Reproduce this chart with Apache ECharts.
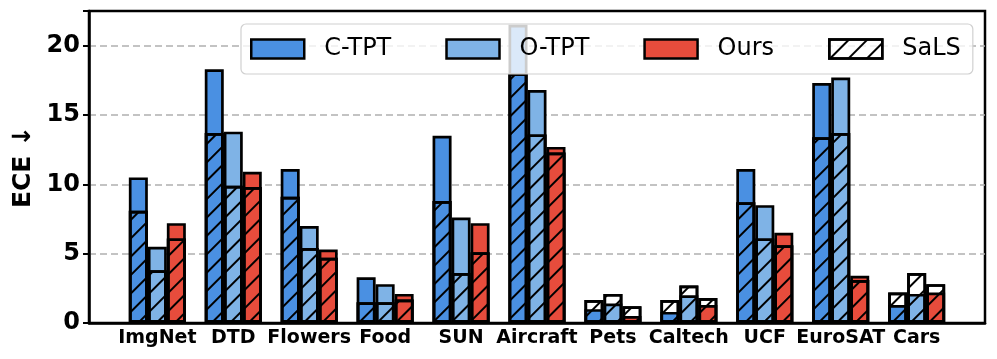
<!DOCTYPE html>
<html>
<head>
<meta charset="utf-8">
<script src="https://cdn.jsdelivr.net/npm/echarts@6/dist/echarts.min.js"></script>
<style>
html,body{margin:0;padding:0;background:#fff;}
#chart{width:997px;height:359px;}
</style>
</head>
<body>
<div id="chart"></div>
<script>
var categories = ['ImgNet', 'DTD', 'Flowers', 'Food', 'SUN', 'Aircraft', 'Pets', 'Caltech', 'UCF', 'EuroSAT', 'Cars'];
var ctpt      = [10.5, 18.3, 11.1, 3.3, 13.5, 21.5, 1.0, 0.8, 11.1, 17.3, 1.3];
var ctptSals  = [8.1, 13.7, 9.1, 1.5, 8.8, 18.0, 1.65, 1.65, 8.7, 13.4, 2.2];
var otpt      = [5.5, 13.8, 7.0, 2.8, 7.6, 16.8, 1.4, 2.0, 8.5, 17.7, 2.1];
var otptSals  = [3.8, 9.9, 5.4, 1.5, 3.6, 13.6, 2.1, 2.7, 6.1, 13.7, 3.6];
var ours      = [7.2, 10.9, 5.3, 2.1, 7.2, 12.7, 0.5, 1.3, 6.5, 3.4, 2.2];
var oursSals  = [6.1, 9.8, 4.7, 1.7, 5.1, 12.3, 1.2, 1.8, 5.6, 3.1, 2.8];
var yTicks = [0, 5, 10, 15, 20];

var FONT = 'DejaVu Sans';
function pts(arr) { return arr.map(function (v, i) { return [i, v]; }); }

var hatch = {
    symbol: 'rect',
    symbolSize: 1,
    color: '#000',
    backgroundColor: 'rgba(0,0,0,0)',
    dashArrayX: [1, 0],
    dashArrayY: [1.4, 10.6],
    rotation: -Math.PI / 4
};

function mainBar(name, data, color) {
    return {
        name: name, type: 'bar', xAxisIndex: 0, data: pts(data),
        barWidth: 19, barGap: '0%', z: 2,
        itemStyle: { color: color, borderColor: '#000', borderWidth: 2.7 }
    };
}
function salsBar(data) {
    return {
        name: 'SaLS', type: 'bar', xAxisIndex: 1, data: pts(data),
        barWidth: 19, barGap: '0%', z: 3,
        itemStyle: { color: 'rgba(255,255,255,0)', borderColor: '#000', borderWidth: 2.7, decal: hatch }
    };
}

var myChart = echarts.init(document.getElementById('chart'));
var option = {
    animation: false,
    grid: {
        left: 89, right: 12, top: 11, bottom: 36,
        show: true, borderColor: '#000', borderWidth: 2.5, backgroundColor: 'transparent'
    },
    legend: {
        data: ['C-TPT', 'O-TPT', 'Ours', 'SaLS'],
        left: 241, top: 24,
        padding: [13, 12, 13, 9],
        itemWidth: 53, itemHeight: 19, itemGap: 54,
        icon: 'rect',
        backgroundColor: 'rgba(255,255,255,0.8)',
        borderColor: '#d0d0d0', borderWidth: 1.2, borderRadius: 5,
        itemStyle: { borderColor: '#000', borderWidth: 2.5 },
        textStyle: { fontFamily: FONT, fontSize: 24, color: '#000', padding: [0, 0, 0, 15] }
    },
    xAxis: [{
        type: 'value', min: -0.9, max: 10.9,
        axisLine: { show: true, lineStyle: { color: '#000', width: 2.5 } },
        axisTick: { show: false },
        splitLine: { show: false },
        axisLabel: {
            customValues: categories.map(function (c, i) { return i; }),
            formatter: function (v) { return categories[Math.round(v)]; },
            fontFamily: FONT, fontWeight: 'bold', fontSize: 19, color: '#000', margin: 6
        }
    }, {
        type: 'value', min: -0.9, max: 10.9, show: false,
        splitLine: { show: false }
    }],
    yAxis: {
        type: 'value', min: 0, max: 22.5, interval: 5,
        name: 'ECE \u2193', nameLocation: 'middle', nameGap: 53, nameRotate: 90,
        nameTextStyle: { fontFamily: FONT, fontWeight: 'bold', fontSize: 25, color: '#000' },
        axisLine: { show: true, onZero: false, lineStyle: { color: '#000', width: 2.5 } },
        axisTick: { show: true, length: 6, lineStyle: { color: '#000', width: 2 } },
        axisLabel: {
            formatter: function (v) { return yTicks.indexOf(v) >= 0 ? String(v) : ''; },
            fontFamily: FONT, fontWeight: 'bold', fontSize: 24, color: '#000', margin: 9
        },
        splitLine: {
            show: true, showMinLine: false, showMaxLine: false,
            lineStyle: { color: '#b0b0b0', width: 1.5, type: [7, 4] }
        }
    },
    series: [
        mainBar('C-TPT', ctpt, '#4a90e2'),
        mainBar('O-TPT', otpt, '#7fb3e6'),
        mainBar('Ours', ours, '#e74c3c'),
        salsBar(ctptSals),
        salsBar(otptSals),
        salsBar(oursSals)
    ]
};
myChart.setOption(option);
</script>
</body>
</html>
